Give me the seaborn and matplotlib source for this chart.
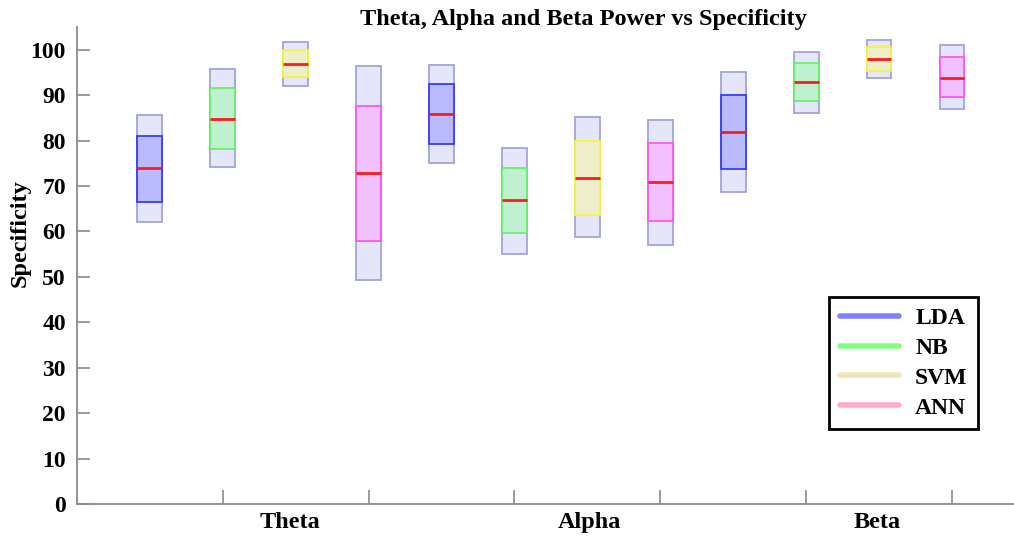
import matplotlib
matplotlib.use("Agg")
import matplotlib.pyplot as plt
from matplotlib.lines import Line2D
import numpy as np
import pandas as pd
import seaborn as sns

# Specificity summaries (%) per band and classifier
bands = ["Theta", "Alpha", "Beta"]
classifiers = ["LDA", "NB", "SVM", "ANN"]

# rows = bands, columns = classifiers
spec_min = [[62.1, 74.1, 92.0, 49.2],
            [75.1, 55.1, 58.8, 57.1],
            [68.7, 86.0, 93.7, 86.9]]
spec_q1 = [[66.5, 78.2, 93.9, 58.0],
           [79.2, 59.7, 63.6, 62.3],
           [73.7, 88.7, 95.3, 89.6]]
spec_med = [[73.9, 84.8, 96.9, 72.8],
            [85.8, 66.9, 71.7, 70.9],
            [81.9, 92.9, 97.9, 93.8]]
spec_q3 = [[81.1, 91.5, 99.9, 87.5],
           [92.5, 74.0, 80.0, 79.4],
           [90.1, 97.1, 100.6, 98.3]]
spec_max = [[85.7, 95.7, 101.7, 96.5],
            [96.7, 78.4, 85.1, 84.5],
            [95.0, 99.6, 102.1, 101.0]]

y_ticks = [0, 10, 20, 30, 40, 50, 60, 70, 80, 90, 100]

fill_colors = {"LDA": "#babaff", "NB": "#bff0cf", "SVM": "#eeeeca", "ANN": "#f0c0ff"}
edge_colors = {"LDA": "#3a3aff", "NB": "#66f066", "SVM": "#f5f53a", "ANN": "#ff55f5"}
legend_colors = {"LDA": "#8080ff", "NB": "#80ff80", "SVM": "#eee6b8", "ANN": "#ffaacc"}

# Build long-form tables: one slot per (band, classifier)
slots = [f"{b}-{c}" for b in bands for c in classifiers]
rows_inner, rows_outer = [], []
for bi, b in enumerate(bands):
    for ci, c in enumerate(classifiers):
        slot = f"{b}-{c}"
        lo, q1, md, q3, hi = (spec_min[bi][ci], spec_q1[bi][ci], spec_med[bi][ci],
                              spec_q3[bi][ci], spec_max[bi][ci])
        # five values whose quartiles are exactly q1 / median / q3
        for v in (lo, q1, md, q3, hi):
            rows_inner.append({"slot": slot, "clf": c, "val": v})
        # range band: lower/upper quartiles equal to min/max
        for v in (lo, lo, md, hi, hi):
            rows_outer.append({"slot": slot, "clf": c, "val": v})
df_inner = pd.DataFrame(rows_inner)
df_outer = pd.DataFrame(rows_outer)

sns.set_theme(style="ticks")
plt.rcParams["font.family"] = ["Liberation Serif", "DejaVu Serif"]
plt.rcParams["font.weight"] = "bold"
plt.rcParams["text.color"] = "black"

fig = plt.figure(figsize=(10.14, 5.41), dpi=100)
ax = fig.add_axes([0.0759, 0.0684, 0.9241, 0.8817])

box_w = 0.34
# full range bands
sns.boxplot(data=df_outer, x="slot", y="val", order=slots, ax=ax,
            color="#e6e6fa", linecolor="#a3a3dc", saturation=1, width=box_w,
            whis=(0, 100), showfliers=False, showcaps=False, linewidth=1.3,
            whiskerprops=dict(linewidth=0), medianprops=dict(linewidth=0))
# interquartile boxes with red medians
for c in classifiers:
    sns.boxplot(data=df_inner[df_inner["clf"] == c], x="slot", y="val", order=slots,
                ax=ax, color=fill_colors[c], linecolor=edge_colors[c], saturation=1,
                width=box_w, whis=(0, 100), showfliers=False, showcaps=False,
                linewidth=1.3, whiskerprops=dict(linewidth=0),
                medianprops=dict(color="#ff1a1a", linewidth=2))

ax.set_xlim(-1.0, 11.85)
ax.set_ylim(0, 105)
ax.set_yticks(y_ticks)
ax.set_yticklabels([str(t) for t in y_ticks])
ax.set_xlabel("")
ax.set_ylabel("")

# group ticks between boxes, band names as tickless minor labels
ax.set_xticks([1, 3, 5, 7, 9, 11])
ax.set_xticklabels([])
ax.set_xticks([1.92, 6.03, 9.97], minor=True)
ax.set_xticklabels(bands, minor=True)

for side in ("top", "right"):
    ax.spines[side].set_visible(False)
for side in ("left", "bottom"):
    ax.spines[side].set_color("#8a8a8a")
    ax.spines[side].set_linewidth(1.3)

ax.tick_params(axis="y", direction="in", length=9, width=1.2, color="#8a8a8a",
               pad=8, labelsize=17, labelcolor="black")
ax.tick_params(axis="x", which="major", direction="in", length=10, width=1.2,
               color="#8a8a8a")
ax.tick_params(axis="x", which="minor", length=0, pad=6, labelsize=17.5,
               labelcolor="black")
for lab in ax.get_yticklabels() + ax.get_xticklabels(minor=True):
    lab.set_fontweight("bold")

fig.text(20 / 1014, 1 - 233 / 541, "Specificity", rotation=90, ha="center",
         va="center", fontsize=17.5, fontweight="bold")
fig.text(583 / 1014, 1 - 20 / 541, "Theta, Alpha and Beta Power vs Specificity",
         ha="center", va="center", fontsize=17.5, fontweight="bold")

handles = [Line2D([0], [0], color=legend_colors[c], lw=4) for c in classifiers]
leg = ax.legend(handles, classifiers, loc="upper left",
                bbox_to_anchor=(829 / 1014, 1 - 297 / 541),
                bbox_transform=fig.transFigure, borderaxespad=0,
                fancybox=False, framealpha=1, edgecolor="black",
                prop=dict(size=17, weight="bold"), handlelength=2.5,
                handletextpad=0.7, labelspacing=0.35, borderpad=0.45)
leg.get_frame().set_linewidth(2)
for t in leg.get_texts():
    t.set_color("black")

fig.savefig("out.png", dpi=100)
